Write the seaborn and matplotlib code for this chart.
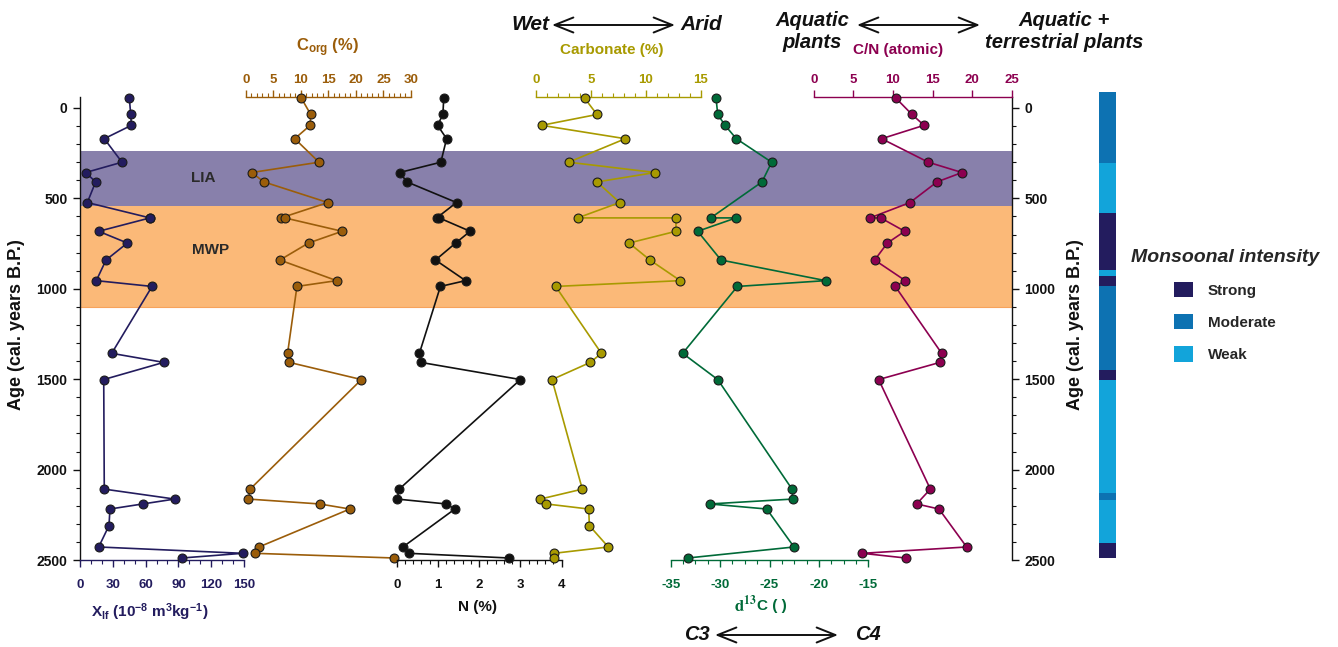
import numpy as np
import pandas as pd
import matplotlib
matplotlib.use("Agg")
import matplotlib.pyplot as plt
from matplotlib.ticker import MultipleLocator
from matplotlib.patches import Patch, FancyArrowPatch
import seaborn as sns

nan = np.nan

# Sample ages (cal. years B.P.), one entry per sampled level
age = [-54, 36, 96, 170, 300, 357, 409, 523, 608, 608, 682, 747, 841, 955, 987,
       1357, 1407, 1502, 2108, 2163, 2190, 2218, 2310, 2428, 2463, 2489]

# Proxy records (NaN where a proxy was not measured)
chi_lf = [45.1, 46.4, 47.0, 22.2, 38.4, 5.2, 14.3, 6.7, 64.0, 64.0, 17.1, 43.3, 23.8, 14.9, 65.9,
          29.0, 76.6, 21.7, 22.2, 86.6, 57.4, 27.4, 26.5, 17.1, 148.8, 93.0]
c_org = [10.1, 11.8, 11.7, 8.9, 13.3, 1.1, 3.3, 14.9, 6.4, 7.1, 17.5, 11.4, 6.2, 16.5, 9.3,
         7.6, 7.9, 21.0, 0.8, 0.5, 13.4, 18.9, nan, 2.4, 1.6, 27.0]
nitrogen = [1.14, 1.12, 0.99, 1.21, 1.07, 0.07, 0.25, 1.45, 0.97, 1.03, 1.78, 1.43, 0.94, 1.67, 1.06,
            0.55, 0.58, 3.0, 0.06, 0.01, 1.2, 1.41, nan, 0.15, 0.29, 2.73]
carbonate = [4.44, 5.56, 0.54, 8.13, 2.99, 10.83, 5.56, 7.62, 3.81, 12.73, 12.73, 8.47, 10.37, 13.12, 1.81,
             5.96, 4.96, 1.48, 4.23, 0.42, 0.96, 4.81, 4.87, 6.59, 1.66, 1.66]
d13c = [-30.41, -30.24, -29.5, -28.36, -24.78, nan, -25.76, nan, -30.95, -28.39, -32.27, nan, -29.91, -19.31, -28.25,
        -33.79, nan, -30.24, -22.72, -22.65, -31.05, -25.28, nan, -22.52, nan, -33.29]
cn_ratio = [10.39, 12.41, 13.93, 8.58, 14.47, 18.72, 15.57, 12.16, 7.11, 8.46, 11.49, 9.3, 7.7, 11.57, 10.3,
            16.16, 15.95, 8.2, 14.73, nan, 13.0, 15.82, nan, 19.31, 6.14, 11.62]

# Climate episodes (age ranges)
lia_range = (238, 544)
mwp_range = (544, 1099)

# Monsoonal intensity zones
monsoon_top = [-88, 304, 581, 896, 929, 985, 1449, 1504, 2129, 2168, 2406]
monsoon_base = [304, 581, 896, 929, 985, 1449, 1504, 2129, 2168, 2406, 2489]
monsoon_class = ["Moderate", "Weak", "Strong", "Weak", "Strong", "Moderate",
                 "Strong", "Weak", "Moderate", "Weak", "Strong"]
monsoon_levels = ["Strong", "Moderate", "Weak"]

sns.set_theme(style="white")
plt.rcParams["font.family"] = ["Liberation Sans", "DejaVu Sans"]
plt.rcParams["font.weight"] = "bold"
plt.rcParams["mathtext.fontset"] = "custom"
plt.rcParams["mathtext.rm"] = "Liberation Sans:bold"
plt.rcParams["mathtext.bf"] = "Liberation Sans:bold"
plt.rcParams["mathtext.it"] = "Liberation Sans:italic:bold"

W, H = 1338, 647
fig = plt.figure(figsize=(W / 100, H / 100), dpi=100)

Y_TOP, Y_BOT = 97.3, 560.0
YLIM = (2500, -59)


def rect(x0, x1, y0=Y_TOP, y1=Y_BOT):
    return [x0 / W, 1 - y1 / H, (x1 - x0) / W, (y1 - y0) / H]


def fx(px):
    return px / W


def fy(py):
    return 1 - py / H


# Base axes: age scales on both sides and the climate-episode shading
ax0 = fig.add_axes(rect(80, 1011.7))
ax0.set_ylim(*YLIM)
ax0.set_xlim(0, 1)
ax0.axhspan(*lia_range, color="#8880AB", lw=0, zorder=0)
ax0.axhspan(*mwp_range, color="#FBB978", lw=0, zorder=0)
ax0.axhline(mwp_range[1], color="#F7A35C", lw=0.8, zorder=0)
for s in ["top", "bottom"]:
    ax0.spines[s].set_visible(False)
for s in ["left", "right"]:
    ax0.spines[s].set_color("#111111")
    ax0.spines[s].set_linewidth(1.0)
ax0.set_xticks([])
ax0.yaxis.set_major_locator(MultipleLocator(500))
ax0.yaxis.set_minor_locator(MultipleLocator(100))
ax0.tick_params(axis="y", which="both", left=True, right=True, labelleft=True, labelright=True,
                direction="out", color="#111111", labelcolor="#111111", labelsize=10)
ax0.tick_params(axis="y", which="major", length=5, width=1, pad=4)
ax0.tick_params(axis="y", which="minor", length=3, width=0.8)
ax0.grid(False)
ax0.text(0.132, 387, "LIA", transform=ax0.get_yaxis_transform(), ha="center", va="center",
         fontsize=11, color="#2A2A2A")
ax0.text(0.140, 785, "MWP", transform=ax0.get_yaxis_transform(), ha="center", va="center",
         fontsize=11, color="#2A2A2A")

fig.text(fx(17), fy(325), "Age (cal. years B.P.)", rotation=90, ha="center", va="center",
         fontsize=13, color="#111111")
fig.text(fx(1075), fy(325), "Age (cal. years B.P.)", rotation=90, ha="center", va="center",
         fontsize=13, color="#111111")

df = pd.DataFrame({"age": age, "chi": chi_lf, "corg": c_org, "n": nitrogen,
                   "carb": carbonate, "d13c": d13c, "cn": cn_ratio})

panels = [
    # column, x-extent in px, value limits, axis side, colour, major step, minor step
    ("chi", (80, 244), (0, 150), "bottom", "#231C5E", 30, 10),
    ("corg", (245.7, 411), (0, 30), "top", "#9B5D0A", 5, 1),
    ("n", (396.7, 561.7), (0, 4), "bottom", "#111111", 1, 0.2),
    ("carb", (535.7, 701), (0, 15), "top", "#A89A00", 5, 1),
    ("d13c", (670.7, 868.3), (-35, -15), "bottom", "#006A38", 5, 1.25),
    ("cn", (813.7, 1011.7), (0, 25), "top", "#8C0050", 5, None),
]

for col, (x0, x1), lims, side, color, major, minor in panels:
    ax = fig.add_axes(rect(x0, x1))
    ax.patch.set_visible(False)
    sub = df[["age", col]].dropna()
    sns.lineplot(data=sub, x=col, y="age", orient="y", sort=False, estimator=None, ax=ax,
                 color=color, linewidth=1.2, marker="o", markersize=6.4,
                 markerfacecolor=color, markeredgecolor="#1A1A1A", markeredgewidth=0.8,
                 clip_on=False, zorder=5)
    ax.set_ylim(*YLIM)
    ax.set_xlim(*lims)
    ax.set_xlabel("")
    ax.set_ylabel("")
    ax.grid(False)
    for s in ["left", "right", "top", "bottom"]:
        ax.spines[s].set_visible(s == side)
    ax.spines[side].set_color(color)
    ax.spines[side].set_linewidth(1.0)
    ax.set_yticks([])
    if side == "top":
        ax.xaxis.tick_top()
    else:
        ax.xaxis.tick_bottom()
    ticks = np.arange(lims[0], lims[1] + 0.001, major)
    ax.set_xticks(ticks)
    ax.set_xticklabels([f"{v:g}" for v in ticks])
    if minor:
        ax.xaxis.set_minor_locator(MultipleLocator(minor))
    ax.tick_params(axis="x", which="both", direction="out", color=color, labelcolor=color,
                   labelsize=9.5)
    ax.tick_params(axis="x", which="major", length=5, width=1, pad=9 if side == "bottom" else 3)
    ax.tick_params(axis="x", which="minor", length=3, width=0.8)

# Axis titles
fig.text(fx(328), fy(48), r"C$_{\mathbf{org}}$ (%)", ha="center", va="center",
         fontsize=12, color="#9B5D0A")
fig.text(fx(612), fy(50), "Carbonate (%)", ha="center", va="center", fontsize=11, color="#A89A00")
fig.text(fx(898), fy(50), "C/N (atomic)", ha="center", va="center", fontsize=11, color="#8C0050")
fig.text(fx(150), fy(612),
         r"X$_{\mathbf{lf}}$ (10$^{\mathbf{-8}}$ m$^{\mathbf{3}}$kg$^{\mathbf{-1}}$)",
         ha="center", va="center", fontsize=11, color="#231C5E")
fig.text(fx(478), fy(607), "N (%)", ha="center", va="center", fontsize=11, color="#111111")
fig.text(fx(745), fy(605), r"$\mathbf{d^{13}}$", ha="center", va="center", fontsize=12,
         color="#006A38", math_fontfamily="stix")
fig.text(fx(757), fy(606), "C ( )", ha="left", va="center", fontsize=11, color="#006A38")

# Interpretive arrows
arrow_kw = dict(arrowstyle="<->, head_length=0.75, head_width=0.3", lw=1.4, color="#111111",
                shrinkA=0, shrinkB=0, mutation_scale=18, transform=fig.transFigure)
big = dict(style="italic", color="#111111")
fig.text(fx(549), fy(25), "Wet", ha="right", va="center", fontsize=15, **big)
fig.text(fx(680), fy(25), "Arid", ha="left", va="center", fontsize=15, **big)
fig.add_artist(FancyArrowPatch((fx(552), fy(25)), (fx(675), fy(25)), **arrow_kw))
fig.text(fx(812), fy(31), "Aquatic\nplants", ha="center", va="center", linespacing=1.2,
         multialignment="center", fontsize=14.5, **big)
fig.text(fx(1064), fy(32), "Aquatic +\nterrestrial plants", ha="center", va="center",
         linespacing=1.2, multialignment="center", fontsize=14.5, **big)
fig.add_artist(FancyArrowPatch((fx(857), fy(25)), (fx(980), fy(25)), **arrow_kw))
fig.text(fx(710), fy(635), "C3", ha="right", va="center", fontsize=14.5, **big)
fig.text(fx(855), fy(635), "C4", ha="left", va="center", fontsize=14.5, **big)
fig.add_artist(FancyArrowPatch((fx(715), fy(635)), (fx(838), fy(635)), **arrow_kw))

# Monsoonal intensity column
monsoon_colors = {"Strong": "#231C5E", "Moderate": "#0D72B2", "Weak": "#12A4DA"}
axm = fig.add_axes(rect(1099, 1116))
axm.set_ylim(*YLIM)
axm.set_xlim(0, 1)
axm.axis("off")
heights = np.array(monsoon_base) - np.array(monsoon_top)
axm.bar([0.5] * len(heights), heights, bottom=monsoon_top, width=1.0,
        color=[monsoon_colors[c] for c in monsoon_class], linewidth=0, clip_on=False)

handles = [Patch(facecolor=monsoon_colors[k], edgecolor="none") for k in monsoon_levels]
fig.legend(handles, monsoon_levels, loc="upper center", bbox_to_anchor=(fx(1225), fy(235)),
           frameon=False, fontsize=11, title="Monsoonal intensity",
           title_fontproperties={"weight": "bold", "style": "italic", "size": 14},
           handlelength=1.2, handleheight=1.2, labelspacing=1.05, handletextpad=1.0)

fig.savefig("out.png", dpi=100)
